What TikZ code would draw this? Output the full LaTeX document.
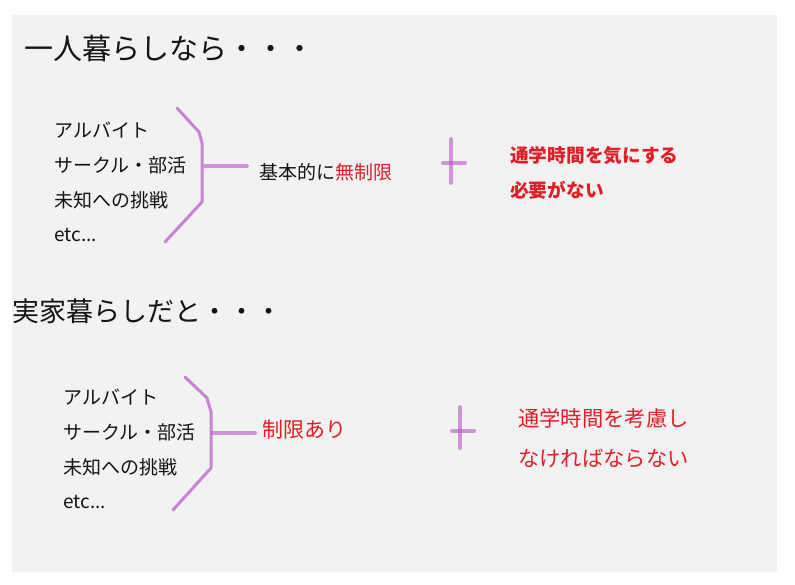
\documentclass[tikz,border=0pt]{standalone}
\usepackage{fontspec}
\setmainfont{Noto Sans CJK JP}
\usetikzlibrary{positioning}
\definecolor{fondo}{RGB}{242,242,242}
\definecolor{rojo}{RGB}{225,30,40}
\definecolor{morado}{RGB}{185,85,200}
\definecolor{tinta}{RGB}{20,20,20}
\newcommand{\etcpuntos}{etc...}

\begin{document}
\begin{tikzpicture}[x=1pt, y=-1pt,
  titulo/.style={anchor=west, inner sep=0pt, text=tinta, font=\fontsize{29}{32}\selectfont},
  item/.style={anchor=west, inner sep=0pt, text=tinta, font=\fontsize{19}{22}\selectfont},
  nota/.style={anchor=west, inner sep=0pt, text=rojo, font=\fontsize{#1}{24}\selectfont},
  notab/.style={anchor=west, inner sep=0pt, text=rojo, font=\fontsize{#1}{24}\selectfont\bfseries},
  trazo/.style={draw=morado, line width=3pt, line cap=round, line join=round, opacity=0.7},
  palo/.style={trazo, line width=3.8pt, opacity=0.6}
]
\useasboundingbox[fill=white] (0,0) rectangle (795,585);
\fill[fondo] (12,15) rectangle (777,572);

% un solo
\node[titulo] (t1) at (24,48) {一人暮らしなら・・・};
\foreach \t [count=\i] in {アルバイト, サークル・部活, 未知への挑戦, \etcpuntos}
  \node[item] (a\i) at (54,95+35*\i) {\t};
\draw[trazo] (177,108) -- (199,132) -- (202,143) -- (202,202) -- (165,242);
\draw[palo] (205,166) -- (247,166);
\node[item] (r1) at (259,172) {基本的に\textcolor{rojo}{無制限}};
\draw[palo] (451,139) -- (451,183);
\draw[palo] (443,163) -- (465,163);
\node[notab=18.7] (n1) at (510,156) {通学時間を気にする};
\node[notab=18.7] (n2) at (510,190) {必要がない};

% con la familia
\node[titulo, font=\fontsize{27}{30}\selectfont] (t2) at (12,311) {実家暮らしだと・・・};
\foreach \t [count=\i] in {アルバイト, サークル・部活, 未知への挑戦, \etcpuntos}
  \node[item] (b\i) at (63,362+35*\i) {\t};
\draw[trazo] (185,377) -- (207,398) -- (211,412) -- (211,468) -- (173,510);
\draw[palo] (213,433) -- (255,433);
\node[nota=21] (r2) at (262,430) {制限あり};
\draw[palo] (460,407) -- (460,448);
\draw[palo] (452,431) -- (474,431);
\node[nota=21.3] (n3) at (518,418) {通学時間を考慮し};
\node[nota=21.3] (n4) at (518,458) {なければならない};
\end{tikzpicture}
\end{document}
